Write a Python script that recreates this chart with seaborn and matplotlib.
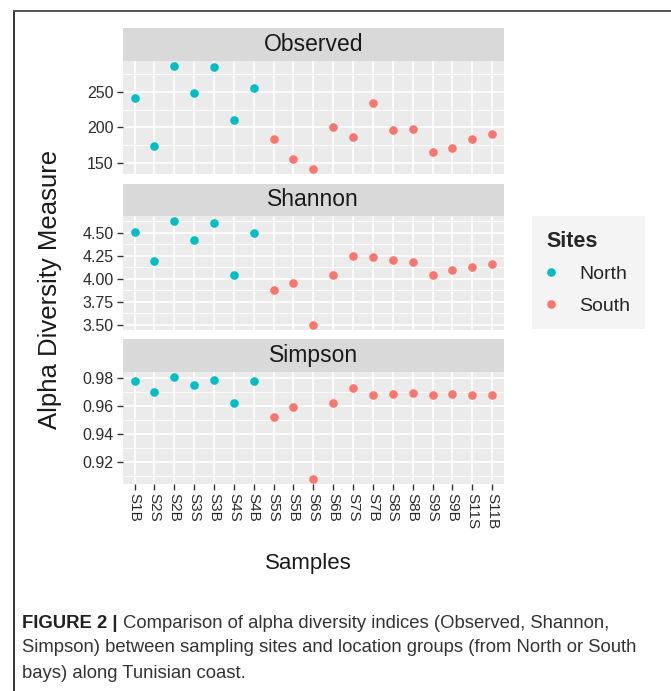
import numpy as np
import pandas as pd
import matplotlib
matplotlib.use("Agg")
import matplotlib.pyplot as plt
from matplotlib.lines import Line2D
from matplotlib.ticker import FixedLocator, FixedFormatter
import seaborn as sns

samples = ["S1B", "S2S", "S2B", "S3S", "S3B", "S4S", "S4B", "S5S", "S5B", "S6S",
           "S6B", "S7S", "S7B", "S8S", "S8B", "S9S", "S9B", "S11S", "S11B"]
sites = ["North"] * 7 + ["South"] * 12
observed = [241, 174, 287, 248, 286, 210, 256, 184, 156, 141,
            200, 186, 235, 196, 198, 165, 171, 184, 190]
shannon = [4.51, 4.19, 4.63, 4.42, 4.61, 4.04, 4.50, 3.875, 3.95, 3.50,
           4.04, 4.245, 4.235, 4.205, 4.185, 4.045, 4.10, 4.125, 4.165]
simpson = [0.978, 0.970, 0.981, 0.975, 0.979, 0.962, 0.978, 0.9525, 0.9595, 0.908,
           0.962, 0.973, 0.968, 0.969, 0.9695, 0.968, 0.969, 0.968, 0.968]
metrics = ["Observed", "Shannon", "Simpson"]
major_ticks = {"Observed": [150, 200, 250],
               "Shannon": [3.50, 3.75, 4.00, 4.25, 4.50],
               "Simpson": [0.92, 0.94, 0.96, 0.98]}
tick_labels = {"Observed": ["150", "200", "250"],
               "Shannon": ["3.50", "3.75", "4.00", "4.25", "4.50"],
               "Simpson": ["0.92", "0.94", "0.96", "0.98"]}
site_order = ["North", "South"]
palette = {"North": "#00BFC4", "South": "#F8766D"}

caption_bold = "FIGURE 2 | "
caption_lines = ["Comparison of alpha diversity indices (Observed, Shannon,",
                 "Simpson) between sampling sites and location groups (from North or South",
                 "bays) along Tunisian coast."]

df = pd.DataFrame({
    "Samples": samples * 3,
    "Sites": sites * 3,
    "Metric": np.repeat(metrics, len(samples)),
    "value": observed + shannon + simpson,
})

sns.set_style("darkgrid", {"axes.facecolor": "#EBEBEB"})
plt.rcParams["font.family"] = ["Liberation Sans", "DejaVu Sans"]

W, H = 671, 691
fig = plt.figure(figsize=(W / 100, H / 100), dpi=100)
fig.patch.set_facecolor("white")

def fx(px):
    return px / W

def fy(py):
    return 1 - py / H

left_px, right_px = 122.7, 504.0
layout = {"Observed": (28.3, 60.7, 174.3),
          "Shannon": (184.0, 215.7, 330.0),
          "Simpson": (339.0, 371.7, 484.0)}

handles = labels = None
for i, m in enumerate(metrics):
    st, pt, pb = layout[m]
    # strip
    sax = fig.add_axes([fx(left_px), fy(pt), fx(right_px - left_px), (pt - st) / H])
    sax.set_facecolor("#D9D9D9")
    sax.set_xticks([]); sax.set_yticks([])
    sax.grid(False)
    for s in sax.spines.values():
        s.set_visible(False)
    sax.text(0.5, 0.5, m, ha="center", va="center", fontsize=16.5, color="#1A1A1A",
             transform=sax.transAxes)
    # panel
    ax = fig.add_axes([fx(left_px), fy(pb), fx(right_px - left_px), (pb - pt) / H])
    sub = df[df["Metric"] == m]
    sns.stripplot(data=sub, x="Samples", y="value", hue="Sites", order=samples,
                  hue_order=site_order, palette=palette, jitter=False, size=6.2,
                  linewidth=0, ax=ax, legend=(i == 0))
    if i == 0:
        handles, labels = ax.get_legend_handles_labels()
        ax.get_legend().remove()
    vals = sub["value"].to_numpy()
    lo, hi = vals.min(), vals.max()
    pad = (hi - lo) * 0.05
    ax.set_ylim(lo - pad, hi + pad)
    ax.set_xlim(-0.6, len(samples) - 0.4)
    mt = major_ticks[m]
    step = mt[1] - mt[0]
    ax.yaxis.set_major_locator(FixedLocator(mt))
    ax.yaxis.set_major_formatter(FixedFormatter(tick_labels[m]))
    minors = [mt[0] - step / 2] + [t + step / 2 for t in mt]
    ax.yaxis.set_minor_locator(FixedLocator(minors))
    ax.set_facecolor("#EBEBEB")
    ax.set_axisbelow(True)
    ax.grid(True, which="major", color="white", lw=1.2)
    ax.grid(True, which="minor", axis="y", color="white", lw=0.6)
    ax.xaxis.grid(True, which="major", color="white", lw=1.2)
    for s in ax.spines.values():
        s.set_visible(False)
    ax.set_xlabel(""); ax.set_ylabel("")
    ax.tick_params(axis="both", which="major", length=4.5, width=1.0, color="#333333",
                   labelcolor="#2b2b2b", pad=2, bottom=True, left=True)
    ax.tick_params(axis="y", labelsize=11.5)
    ax.tick_params(which="minor", length=0, bottom=False, left=False)
    if m == "Simpson":
        ax.tick_params(axis="x", labelsize=11, labelrotation=-90, pad=2)
        for lab in ax.get_xticklabels():
            lab.set_va("top"); lab.set_ha("center")
    else:
        ax.tick_params(axis="x", labelbottom=False, bottom=False)

fig.text(fx(308), fy(563), "Samples", ha="center", va="center", fontsize=16, color="#1A1A1A")
fig.text(fx(50), fy(289), "Alpha Diversity Measure", ha="center", va="center",
         rotation=90, fontsize=18.5, color="#1A1A1A")

leg = fig.legend(handles, labels, title="Sites", loc="upper left",
                 bbox_to_anchor=(fx(531.7), fy(216)), frameon=True, fontsize=14,
                 title_fontproperties={"weight": "bold", "size": 15.5},
                 borderpad=0.75, handlelength=0.5, handletextpad=1.2,
                 labelspacing=0.72, borderaxespad=0)
leg.get_frame().set_facecolor("#F2F2F2")
leg.get_frame().set_edgecolor("none")
leg.get_frame().set_boxstyle("square", pad=0)
leg._legend_box.align = "left"

# border lines
fig.add_artist(Line2D([fx(14), fx(14)], [0, fy(11)], transform=fig.transFigure,
                      color="#333333", lw=1.4))
fig.add_artist(Line2D([fx(14), 1], [fy(11), fy(11)], transform=fig.transFigure,
                      color="#555555", lw=1.4))

# caption
cap_size = 13.3
renderer = fig.canvas.get_renderer()
tb = fig.text(fx(22), fy(623), caption_bold, ha="left", va="center", fontsize=cap_size,
              fontweight="bold", color="#222222")
bb = tb.get_window_extent(renderer=renderer)
fig.text(bb.x1 / W, fy(623), caption_lines[0], ha="left", va="center",
         fontsize=cap_size, color="#333333")
fig.text(fx(22), fy(648), caption_lines[1], ha="left", va="center", fontsize=cap_size,
         color="#333333")
fig.text(fx(22), fy(673), caption_lines[2], ha="left", va="center", fontsize=cap_size,
         color="#333333")

fig.savefig("out.png", dpi=100, facecolor="white")
